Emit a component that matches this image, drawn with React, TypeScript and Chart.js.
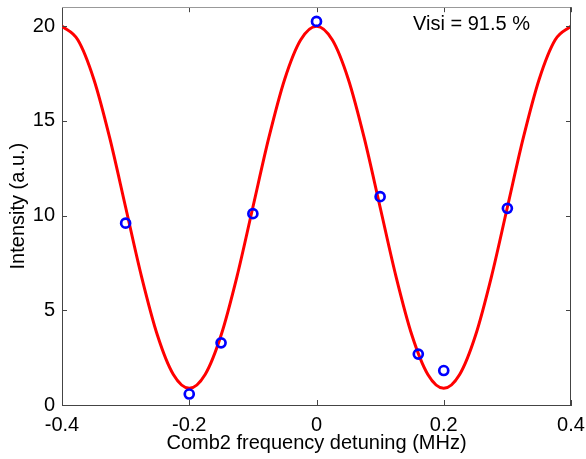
import React, { useEffect, useRef } from "react";
import { Chart, registerables } from "chart.js";

Chart.register(...registerables);

// Measured points: detuning (MHz) and intensity (a.u.)
const pointX = [-0.3, -0.2, -0.15, -0.1, 0, 0.1, 0.16, 0.2, 0.3];
const pointY = [9.6, 0.58, 3.28, 10.1, 20.25, 11.0, 2.69, 1.82, 10.38];

// Fitted curve
const curveX = [
  -0.4, -0.375, -0.35, -0.325, -0.3, -0.275, -0.25, -0.225, -0.2, -0.175, -0.15, -0.125, -0.1, -0.075, -0.05, -0.025,
  0, 0.025, 0.05, 0.075, 0.1, 0.125, 0.15, 0.175, 0.2, 0.225, 0.25, 0.275, 0.3, 0.325, 0.35, 0.375, 0.4,
];
const curveY = [
  20.0, 19.27, 17.2, 14.1, 10.44, 6.78, 3.68, 1.61, 0.88, 1.61, 3.68, 6.78, 10.44, 14.1, 17.2, 19.27,
  20.0, 19.27, 17.2, 14.1, 10.44, 6.78, 3.68, 1.61, 0.88, 1.61, 3.68, 6.78, 10.44, 14.1, 17.2, 19.27, 20.0,
];

const xTicks = [-0.4, -0.2, 0, 0.2, 0.4];
const yTicks = [0, 5, 10, 15, 20];
const annotation = "Visi = 91.5 %";
const xTitle = "Comb2 frequency detuning (MHz)";
const yTitle = "Intensity (a.u.)";

const FONT = "'Liberation Sans', Arial, sans-serif";
const FS = 20;

const framePlugin = {
  id: "frame",
  afterDraw(chart: any) {
    const { ctx, chartArea, scales } = chart;
    const { left, right, top, bottom } = chartArea;
    const xs = scales.x;
    const ys = scales.y;
    const tl = 5;
    ctx.save();
    ctx.lineWidth = 1;
    ctx.strokeStyle = "#444";
    ctx.beginPath();
    xTicks.forEach((v) => {
      const px = Math.round(xs.getPixelForValue(v)) + 0.5;
      ctx.moveTo(px, bottom);
      ctx.lineTo(px, bottom - tl);
      ctx.moveTo(px, top);
      ctx.lineTo(px, top + tl);
    });
    yTicks.forEach((v) => {
      const py = Math.round(ys.getPixelForValue(v)) + 0.5;
      ctx.moveTo(left, py);
      ctx.lineTo(left + tl, py);
      ctx.moveTo(right, py);
      ctx.lineTo(right - tl, py);
    });
    ctx.stroke();
    ctx.strokeStyle = "#999";
    ctx.beginPath();
    ctx.moveTo(left, Math.round(top) + 0.5);
    ctx.lineTo(right, Math.round(top) + 0.5);
    ctx.stroke();
    ctx.strokeStyle = "#444";
    ctx.beginPath();
    ctx.moveTo(Math.round(right) - 0.5, top);
    ctx.lineTo(Math.round(right) - 0.5, bottom);
    ctx.stroke();
    ctx.fillStyle = "#000";
    ctx.font = `${FS}px ${FONT}`;
    ctx.textBaseline = "middle";
    ctx.textAlign = "left";
    ctx.fillText(annotation, 413, 24);
    ctx.restore();
  },
};

export default function App() {
  const ref = useRef<HTMLCanvasElement | null>(null);

  useEffect(() => {
    document.body.style.margin = "0";
    const canvas = ref.current;
    if (!canvas) return;
    const chart = new Chart(canvas, {
      type: "scatter",
      data: {
        datasets: [
          {
            label: "data",
            data: pointX.map((x, i) => ({ x, y: pointY[i] })),
            pointStyle: "circle",
            pointRadius: 4.5,
            pointBorderWidth: 2.7,
            pointBackgroundColor: "rgba(0,0,0,0)",
            pointBorderColor: "#0000ff",
            showLine: false,
            order: 0,
          },
          {
            label: "fit",
            data: curveX.map((x, i) => ({ x, y: curveY[i] })),
            showLine: true,
            borderColor: "#ff0000",
            borderWidth: 3,
            pointRadius: 0,
            cubicInterpolationMode: "monotone",
            order: 1,
          } as any,
        ],
      },
      options: {
        animation: false,
        responsive: false,
        maintainAspectRatio: false,
        events: [],
        layout: { padding: { top: 3, right: 15, left: 0, bottom: 0 } },
        plugins: {
          legend: { display: false },
          tooltip: { enabled: false },
        },
        scales: {
          x: {
            type: "linear",
            min: -0.4,
            max: 0.4,
            afterBuildTicks: (s: any) => {
              s.ticks = xTicks.map((v) => ({ value: v }));
            },
            afterFit: (s: any) => {
              s.height = 54;
              s.paddingLeft = 0;
              s.paddingRight = 0;
            },
            grid: { display: false, drawTicks: false },
            border: { display: true, color: "#444", width: 1 },
            ticks: {
              padding: 8,
              color: "#000",
              font: { family: FONT, size: FS },
              maxRotation: 0,
              callback: (v: any) => String(Number(v)),
            },
            title: {
              display: true,
              text: xTitle,
              color: "#000",
              font: { family: FONT, size: FS },
              padding: { top: 0, bottom: 4 },
            },
          },
          y: {
            type: "linear",
            min: 0,
            max: 21,
            afterBuildTicks: (s: any) => {
              s.ticks = yTicks.map((v) => ({ value: v }));
            },
            afterFit: (s: any) => {
              s.width = 62;
              s.paddingTop = 0;
              s.paddingBottom = 0;
            },
            grid: { display: false, drawTicks: false },
            border: { display: true, color: "#444", width: 1 },
            ticks: {
              padding: 7,
              color: "#000",
              font: { family: FONT, size: FS },
              callback: (v: any) => String(Number(v)),
            },
            title: {
              display: true,
              text: yTitle,
              color: "#000",
              font: { family: FONT, size: FS },
              padding: { top: 6, bottom: 0 },
            },
          },
        },
      },
      plugins: [framePlugin],
    });
    return () => chart.destroy();
  }, []);

  return (
    <div style={{ width: 586, height: 459, position: "relative", background: "#fff" }}>
      <canvas ref={ref} width={586} height={459} style={{ display: "block" }} />
    </div>
  );
}
